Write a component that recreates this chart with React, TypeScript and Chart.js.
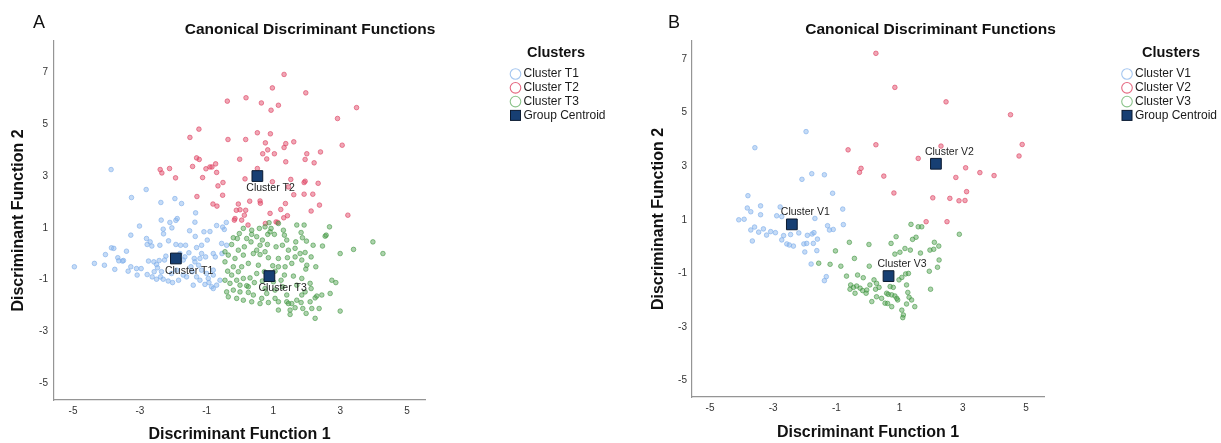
import React, { useEffect, useRef } from "react";
import { Chart, registerables } from "chart.js";

Chart.register(...registerables);

type Pt = [number, number];

// ---------- shared tick values ----------
const xTickValues = [-5, -3, -1, 1, 3, 5];
const yTickValues = [-5, -3, -1, 1, 3, 5, 7];

// ---------- Panel A (T clusters) ----------
const clusterT1: Pt[] = [
  [-3.86, 3.25], [-2.81, 2.48], [-3.25, 2.17], [-1.95, 2.13], [-2.37, 1.98], [-1.75, 1.94], [-1.33, 1.58],
  [-2.36, 1.3], [-2.1, 1.21], [-1.92, 1.29], [-1.88, 1.36], [-1.35, 1.22], [-3.01, 1.07], [-2.3, 0.95],
  [-2.04, 1.0], [-1.51, 0.89], [-2.29, 0.77], [-3.27, 0.72], [-2.8, 0.59], [-2.69, 0.46], [-2.14, 0.5],
  [-1.34, 0.67], [-1.08, 0.85], [-2.78, 0.36], [-2.64, 0.3], [-2.4, 0.33], [-1.92, 0.36], [-1.78, 0.33],
  [-1.63, 0.33], [-1.3, 0.24], [-3.85, 0.23], [-3.78, 0.21], [-3.4, 0.1], [-1.15, 0.33], [-0.98, 0.53],
  [-4.03, -0.03], [-3.66, -0.15], [-3.49, -0.26], [-2.22, -0.09], [-2.42, -0.26], [-2.26, -0.24],
  [-1.65, -0.12], [-1.53, 0.04], [-1.37, -0.18], [-1.2, -0.18], [-1.15, 0.01], [-1.03, -0.12], [-0.8, 0.01],
  [-0.74, -0.12], [-0.54, 0.01], [-4.96, -0.5], [-4.36, -0.37], [-4.06, -0.44], [-3.75, -0.6], [-3.63, -0.27],
  [-3.52, -0.28], [-3.35, -0.67], [-3.27, -0.5], [-3.1, -0.57], [-2.96, -0.57], [-3.08, -0.82], [-2.78, -0.8],
  [-2.74, -0.28], [-2.58, -0.31], [-2.5, -0.41], [-2.47, -0.54], [-2.57, -0.69], [-2.35, -0.69], [-2.63, -0.89],
  [-2.38, -0.89], [-2.5, -0.98], [-2.3, -0.98], [-2.15, -1.05], [-2.02, -1.11], [-1.84, -1.02], [-1.7, -0.82],
  [-1.6, -0.89], [-1.47, -0.5], [-1.35, -0.31], [-1.24, -0.44], [-1.43, -0.69], [-1.3, -0.89], [-1.4, -1.21],
  [-1.2, -1.02], [-1.05, -1.18], [-0.93, -1.11], [-0.85, -1.27], [-0.7, -1.21], [-0.8, -0.82], [-0.6, -1.02],
  [-0.4, 0.33], [-0.41, 1.21], [-0.47, 0.94], [-0.9, 0.86], [-0.7, 1.09], [-0.52, 1.03], [-0.95, -0.95],
  [-0.8, -1.34], [-1.0, -0.76], [-0.55, 0.4], [-1.7, -0.24], [-1.9, -0.63], [-2.05, -0.76], [-1.8, 0.01],
  [-0.8, -0.63], [-1.15, -0.63],
];

const clusterT2: Pt[] = [
  [1.32, 6.92], [0.97, 6.4], [1.97, 6.21], [-0.38, 5.89], [0.18, 6.02], [0.64, 5.82], [1.15, 5.73], [0.93, 5.54],
  [3.49, 5.64], [2.92, 5.22], [-1.23, 4.81], [-1.5, 4.49], [-0.36, 4.41], [0.17, 4.41], [0.52, 4.67], [0.91, 4.63],
  [0.76, 4.28], [1.37, 4.25], [1.32, 4.1], [1.61, 4.32], [0.83, 4.01], [3.06, 4.19], [0.68, 3.86], [1.03, 3.86],
  [0.8, 3.66], [-0.01, 3.65], [2.0, 3.86], [2.41, 3.93], [1.95, 3.64], [1.37, 3.55], [2.22, 3.51], [-1.3, 3.7],
  [-1.22, 3.64], [-1.42, 3.37], [-1.02, 3.28], [-0.9, 3.35], [-0.84, 3.35], [-0.73, 3.47], [-2.39, 3.25],
  [-2.11, 3.29], [-2.34, 3.12], [-1.93, 2.93], [-1.12, 2.94], [-0.7, 3.14], [-0.51, 2.75], [-0.66, 2.62],
  [0.52, 3.29], [0.15, 2.89], [0.97, 2.78], [1.52, 2.87], [1.95, 2.8], [1.92, 2.75], [2.34, 2.72], [1.45, 2.58],
  [-1.29, 2.21], [-0.52, 2.26], [1.92, 2.3], [2.18, 2.3], [1.61, 2.28], [-0.05, 1.92], [0.29, 2.03], [0.6, 2.04],
  [0.61, 1.95], [1.36, 1.94], [-0.11, 1.68], [0.0, 1.7], [0.17, 1.68], [0.13, 1.49], [-0.15, 1.36], [0.05, 1.3],
  [0.24, 1.11], [1.22, 1.71], [1.42, 1.47], [1.31, 1.39], [1.08, 1.23], [1.13, 1.21], [0.76, 1.17], [2.13, 1.65],
  [2.38, 1.88], [3.23, 1.49], [-0.81, 1.92], [-0.69, 1.84], [-0.17, 1.3], [0.9, 1.56],
];

const clusterT3: Pt[] = [
  [0.58, 0.98], [0.75, 1.04], [0.93, 0.98], [0.9, 0.85], [1.7, 1.11], [1.92, 1.11], [2.68, 1.04], [-0.02, 0.78],
  [-0.2, 0.62], [-0.08, 0.59], [0.35, 0.75], [0.5, 0.66], [0.67, 0.53], [0.83, 0.75], [1.03, 0.75], [1.3, 0.91],
  [1.33, 0.72], [1.67, 0.46], [1.83, 0.82], [1.87, 0.62], [1.99, 0.49], [2.19, 0.33], [2.55, 0.68], [2.47, 0.3],
  [3.0, 0.01], [3.4, 0.17], [3.98, 0.46], [4.28, 0.01], [1.08, 0.27], [1.27, 0.33], [1.4, 0.53], [0.82, 0.36],
  [0.6, 0.33], [0.33, 0.46], [0.13, 0.27], [-0.25, 0.36], [-0.35, -0.05], [-0.15, -0.18], [0.1, -0.05], [0.4, 0.01],
  [0.6, -0.03], [0.85, -0.15], [1.15, -0.18], [1.42, -0.15], [1.65, -0.12], [1.8, 0.01], [1.85, -0.24], [2.0, -0.44],
  [2.27, -0.5], [1.97, -0.59], [1.55, -0.37], [1.35, -0.5], [1.15, -0.5], [0.98, -0.46], [0.55, -0.44], [0.25, -0.37],
  [0.05, -0.5], [-0.2, -0.5], [-0.37, -0.67], [-0.05, -0.69], [-0.25, -0.82], [-0.45, -1.02], [-0.3, -1.14],
  [-0.1, -1.02], [0.1, -0.95], [0.3, -0.93], [0.5, -0.76], [0.43, -1.11], [0.2, -1.23], [0.0, -1.21], [-0.2, -1.4],
  [-0.4, -1.47], [0.0, -1.47], [0.25, -1.49], [0.4, -1.59], [0.65, -1.72], [0.35, -1.85], [0.6, -1.92], [0.85, -1.88],
  [1.05, -1.72], [1.15, -1.85], [1.4, -1.59], [1.4, -1.85], [1.55, -1.92], [1.7, -1.79], [1.83, -1.88], [1.88, -2.11],
  [1.65, -2.08], [1.5, -2.17], [1.45, -1.92], [2.25, -2.49], [2.15, -2.11], [2.37, -2.11], [2.45, -1.59], [2.3, -1.63],
  [2.7, -1.53], [2.75, -1.02], [2.87, -1.11], [3.0, -2.21], [1.5, -2.34], [2.1, -1.14], [2.13, -1.34], [1.85, -0.95],
  [1.7, -1.21], [1.6, -0.86], [1.33, -0.82], [1.23, -1.02], [1.28, -1.27], [1.0, -1.08], [1.05, -1.4], [0.75, -1.34],
  [0.8, -1.53], [0.25, -1.27], [-0.35, -1.66], [-0.1, -1.72], [0.1, -1.79], [1.15, -2.17], [1.98, -2.3], [2.1, -1.85],
  [2.25, -1.7], [1.85, -1.59], [1.95, -1.47], [0.73, -0.69], [0.9, -0.76], [1.05, -0.67], [0.67, -1.05], [1.95, 0.05],
  [2.13, -0.12], [1.45, 0.14], [1.65, 0.21], [0.2, 0.59], [0.1, 0.98], [0.35, 0.91], [1.15, 1.17], [0.87, 1.2],
  [0.5, 0.14], [0.75, 0.08], [-0.05, 0.14], [-0.45, 0.08], [-0.45, -0.31], [2.58, 0.72],
];

const centroidsT: Pt[] = [[-1.92, -0.18], [0.52, 3.0], [0.88, -0.86]];
const centroidNamesT = ["Cluster T1", "Cluster T2", "Cluster T3"];

// ---------- Panel B (V clusters) ----------
const clusterV1: Pt[] = [
  [-1.96, 4.29], [-3.58, 3.69], [-2.09, 2.51], [-1.78, 2.72], [-1.38, 2.68], [-1.12, 1.99], [-3.8, 1.9],
  [-3.4, 1.52], [-3.82, 1.44], [-3.71, 1.3], [-3.4, 1.19], [-2.78, 1.48], [-2.73, 1.12], [-4.09, 1.0], [-3.92, 1.02],
  [-3.71, 0.62], [-3.59, 0.73], [-3.46, 0.54], [-3.31, 0.66], [-3.21, 0.43], [-3.08, 0.56], [-2.93, 0.52],
  [-2.89, 1.15], [-2.67, 0.41], [-2.45, 0.45], [-2.19, 0.51], [-1.92, 0.42], [-1.77, 0.47], [-1.71, 0.52],
  [-2.03, 0.1], [-1.94, 0.12], [-2.57, 0.1], [-2.49, 0.06], [-2.36, 0.02], [-2.73, 0.25], [-3.66, 0.21],
  [-1.73, 0.12], [-1.6, 0.28], [-2.0, -0.2], [-1.62, -0.15], [-1.8, -0.65], [-1.68, 1.05], [-1.28, 0.78],
  [-1.22, 0.62], [-1.1, 0.64], [-0.8, 1.4], [-0.78, 0.82], [-1.32, -1.12], [-1.38, -1.27],
];

const clusterV2: Pt[] = [
  [0.25, 7.21], [0.85, 5.94], [2.47, 5.4], [4.51, 4.92], [4.88, 3.81], [4.78, 3.38], [2.31, 3.75], [0.25, 3.8],
  [-0.63, 3.61], [1.59, 3.29], [-0.22, 2.92], [-0.27, 2.77], [0.5, 2.63], [3.09, 2.94], [3.54, 2.76], [3.99, 2.65],
  [2.78, 2.58], [0.82, 2.0], [2.05, 1.82], [2.59, 1.8], [2.88, 1.71], [3.07, 1.72], [3.12, 2.05], [1.84, 0.93],
  [2.5, 0.93],
];

const clusterV3: Pt[] = [
  [-0.59, 0.16], [0.03, 0.08], [-1.03, -0.16], [-0.43, -0.44], [-1.56, -0.62], [-1.2, -0.66], [-0.86, -0.73],
  [-0.68, -1.1], [-0.33, -1.06], [0.04, -0.73], [-0.15, -1.16], [-0.55, -1.43], [-0.46, -1.52], [-0.36, -1.47],
  [-0.57, -1.59], [-0.25, -1.55], [-0.17, -1.64], [-0.04, -1.62], [0.06, -1.43], [0.19, -1.24], [0.27, -1.37],
  [0.24, -1.59], [0.35, -1.52], [-0.06, -1.74], [-0.41, -1.74], [0.12, -2.05], [0.43, -1.93], [0.54, -2.11],
  [0.27, -1.87], [0.59, -1.74], [1.36, 0.83], [1.59, 0.74], [1.7, 0.74], [0.89, 0.37], [1.52, 0.35], [1.41, 0.27],
  [0.73, 0.12], [1.17, -0.07], [1.34, -0.13], [1.01, -0.21], [0.85, -0.28], [1.66, -0.24], [2.1, 0.16], [2.24, 0.02],
  [1.96, -0.13], [2.08, -0.1], [2.25, -0.5], [2.2, -0.77], [1.94, -0.92], [2.89, 0.46], [1.28, -1.0], [1.19, -1.02],
  [0.98, -1.24], [1.07, -1.15], [1.98, -1.59], [0.7, -1.49], [0.8, -1.52], [0.64, -1.78], [0.75, -1.8], [0.85, -1.84],
  [1.22, -1.43], [1.26, -1.71], [1.3, -1.89], [1.38, -1.99], [0.91, -1.93], [0.94, -1.99], [0.62, -2.12],
  [0.75, -2.24], [1.22, -2.14], [1.48, -2.24], [1.07, -2.37], [1.12, -2.55], [1.1, -2.65],
];

const centroidsV: Pt[] = [[-2.41, 0.83], [2.15, 3.09], [0.65, -1.1]];
const centroidNamesV = ["Cluster V1", "Cluster V2", "Cluster V3"];

const legendNamesT = ["Cluster T1", "Cluster T2", "Cluster T3", "Group Centroid"];
const legendNamesV = ["Cluster V1", "Cluster V2", "Cluster V3", "Group Centroid"];

// ---------- styles ----------
const FONT = "'Liberation Sans', Arial, Helvetica, sans-serif";
const POINT_FILL = ["rgba(140,184,238,0.5)", "rgba(226,78,108,0.5)", "rgba(74,158,74,0.45)"];
const POINT_STROKE = ["rgba(128,174,234,0.8)", "rgba(222,70,100,0.8)", "rgba(66,150,66,0.75)"];
const LEGEND_STROKE = ["#a6c7f0", "#e56a82", "#8cc48c"];
const CENTROID_FILL = "#173f73";
const CENTROID_BORDER = "#0b1a30";

interface PanelSpec {
  letter: string;
  letterX: number;
  width: number;
  padLeft: number;
  yAxisWidth: number;
  rightReserve: number;
  xAxisHeight: number;
  xTitlePadBottom: number;
  xMin: number;
  xMax: number;
  yMin: number;
  yMax: number;
  groups: Pt[][];
  centroids: Pt[];
  centroidNames: string[];
  legendNames: string[];
  labelDy: number;
  legendCircleX: number;
  legendTitleX: number;
  yTickPad: number;
}

const panelA: PanelSpec = {
  letter: "A", letterX: 39, width: 620, padLeft: 0, yAxisWidth: 54, rightReserve: 195,
  xAxisHeight: 43, xTitlePadBottom: 0, xMin: -5.57, xMax: 5.54, yMin: -5.64, yMax: 8.21,
  groups: [clusterT1, clusterT2, clusterT3], centroids: centroidsT, centroidNames: centroidNamesT,
  legendNames: legendNamesT, labelDy: 12.5, legendCircleX: 515.5, legendTitleX: 556, yTickPad: 6,
};

const panelB: PanelSpec = {
  letter: "B", letterX: 54, width: 601, padLeft: 20, yAxisWidth: 52, rightReserve: 177,
  xAxisHeight: 46, xTitlePadBottom: 2.5, xMin: -5.57, xMax: 5.57, yMin: -5.61, yMax: 7.67,
  groups: [clusterV1, clusterV2, clusterV3], centroids: centroidsV, centroidNames: centroidNamesV,
  legendNames: legendNamesV, labelDy: -12, legendCircleX: 507, legendTitleX: 551, yTickPad: 5,
};

const LEGEND_ROW_Y = [74, 87.8, 101.6, 115.4];

function buildChart(canvas: HTMLCanvasElement, p: PanelSpec) {
  const toXY = (a: Pt[]) => a.map(([x, y]) => ({ x, y }));

  const datasets: any[] = p.groups.map((g, i) => ({
    label: p.legendNames[i],
    data: toXY(g),
    xAxisID: "x",
    yAxisID: "y",
    pointStyle: "circle",
    pointRadius: 2.3,
    pointHoverRadius: 2.3,
    backgroundColor: POINT_FILL[i],
    borderColor: POINT_STROKE[i],
    borderWidth: 0.8,
    order: 3 - i,
  }));
  datasets.push({
    label: "Group Centroid",
    data: toXY(p.centroids),
    xAxisID: "x",
    yAxisID: "y",
    pointStyle: "rect",
    pointRadius: 7.6,
    pointHoverRadius: 7.6,
    backgroundColor: CENTROID_FILL,
    borderColor: CENTROID_BORDER,
    borderWidth: 1,
    order: 0,
  });

  const extras = {
    id: "panelExtras",
    afterDatasetsDraw(chart: any) {
      const ctx = chart.ctx as CanvasRenderingContext2D;
      const xs = chart.scales.x;
      const ys = chart.scales.y;
      ctx.save();
      ctx.font = `10.5px ${FONT}`;
      ctx.fillStyle = "#1e1e1e";
      ctx.textAlign = "left";
      ctx.textBaseline = "middle";
      p.centroids.forEach(([x, y], i) => {
        const px = xs.getPixelForValue(x);
        const py = ys.getPixelForValue(y);
        ctx.fillText(p.centroidNames[i], px - 11, py + p.labelDy);
      });
      ctx.restore();
    },
    afterDraw(chart: any) {
      const ctx = chart.ctx as CanvasRenderingContext2D;
      ctx.save();
      // panel letter
      ctx.fillStyle = "#111";
      ctx.font = `18px ${FONT}`;
      ctx.textAlign = "center";
      ctx.textBaseline = "middle";
      ctx.fillText(p.letter, p.letterX, 23);
      // legend title
      ctx.font = `bold 14.5px ${FONT}`;
      ctx.fillText("Clusters", p.legendTitleX, 53);
      // legend items
      ctx.font = `12px ${FONT}`;
      ctx.textAlign = "left";
      p.legendNames.forEach((name, i) => {
        const y = LEGEND_ROW_Y[i];
        if (i < 3) {
          ctx.beginPath();
          ctx.arc(p.legendCircleX, y, 5.3, 0, Math.PI * 2);
          ctx.fillStyle = "#ffffff";
          ctx.fill();
          ctx.lineWidth = 1.1;
          ctx.strokeStyle = LEGEND_STROKE[i];
          ctx.stroke();
        } else {
          ctx.fillStyle = CENTROID_FILL;
          ctx.fillRect(p.legendCircleX - 5, y - 5, 10, 10);
          ctx.lineWidth = 1;
          ctx.strokeStyle = CENTROID_BORDER;
          ctx.strokeRect(p.legendCircleX - 5, y - 5, 10, 10);
        }
        ctx.fillStyle = "#1a1a1a";
        ctx.fillText(name, p.legendCircleX + 8, y);
      });
      ctx.restore();
    },
  };

  return new Chart(canvas, {
    type: "scatter",
    data: { datasets },
    options: {
      responsive: false,
      animation: false,
      devicePixelRatio: 1,
      events: [],
      layout: { padding: { left: p.padLeft, right: 0, top: 0, bottom: 0 } },
      plugins: {
        legend: { display: false },
        tooltip: { enabled: false },
        title: {
          display: true,
          text: "Canonical Discriminant Functions",
          color: "#111",
          font: { family: FONT, size: 15.5, weight: "bold", lineHeight: 1.2 },
          padding: { top: 20.7, bottom: 1.7 },
        },
      },
      scales: {
        x: {
          type: "linear",
          position: "bottom",
          min: p.xMin,
          max: p.xMax,
          afterBuildTicks: (s: any) => {
            s.ticks = xTickValues.map((v) => ({ value: v }));
          },
          afterFit: (s: any) => {
            s.height = p.xAxisHeight;
          },
          grid: { display: false, drawTicks: false },
          border: { display: true, color: "#959595", width: 1.2 },
          ticks: {
            autoSkip: false,
            maxRotation: 0,
            padding: 5,
            color: "#333",
            font: { family: FONT, size: 10 },
            callback: (v: any) => String(v),
          },
          title: {
            display: true,
            text: "Discriminant Function 1",
            color: "#111",
            font: { family: FONT, size: 16, weight: "bold", lineHeight: 1 },
            padding: { top: 0, bottom: p.xTitlePadBottom },
          },
        },
        y: {
          type: "linear",
          position: "left",
          min: p.yMin,
          max: p.yMax,
          afterBuildTicks: (s: any) => {
            s.ticks = yTickValues.map((v) => ({ value: v }));
          },
          afterFit: (s: any) => {
            s.width = p.yAxisWidth;
          },
          grid: { display: false, drawTicks: false },
          border: { display: true, color: "#959595", width: 1.2 },
          ticks: {
            autoSkip: false,
            padding: p.yTickPad,
            color: "#333",
            font: { family: FONT, size: 10 },
            callback: (v: any) => String(v),
          },
          title: {
            display: true,
            text: "Discriminant Function 2",
            color: "#111",
            font: { family: FONT, size: 16, weight: "bold", lineHeight: 1 },
            padding: { top: 10.5, bottom: 0 },
          },
        },
        legendSpace: {
          type: "linear",
          position: "right",
          display: true,
          grid: { display: false, drawTicks: false },
          border: { display: false },
          ticks: { display: false },
          afterFit: (s: any) => {
            s.width = p.rightReserve;
          },
        },
      },
    } as any,
    plugins: [extras],
  });
}

function Panel({ spec }: { spec: PanelSpec }) {
  const ref = useRef<HTMLCanvasElement | null>(null);
  useEffect(() => {
    if (!ref.current) return;
    const chart = buildChart(ref.current, spec);
    return () => chart.destroy();
  }, [spec]);
  return (
    <canvas
      ref={ref}
      width={spec.width}
      height={443}
      style={{ display: "block", width: spec.width, height: 443 }}
    />
  );
}

export default function App() {
  return (
    <div
      style={{
        position: "absolute",
        left: 0,
        top: 0,
        width: 1221,
        height: 443,
        display: "flex",
        background: "#ffffff",
        overflow: "hidden",
      }}
    >
      <Panel spec={panelA} />
      <Panel spec={panelB} />
    </div>
  );
}
